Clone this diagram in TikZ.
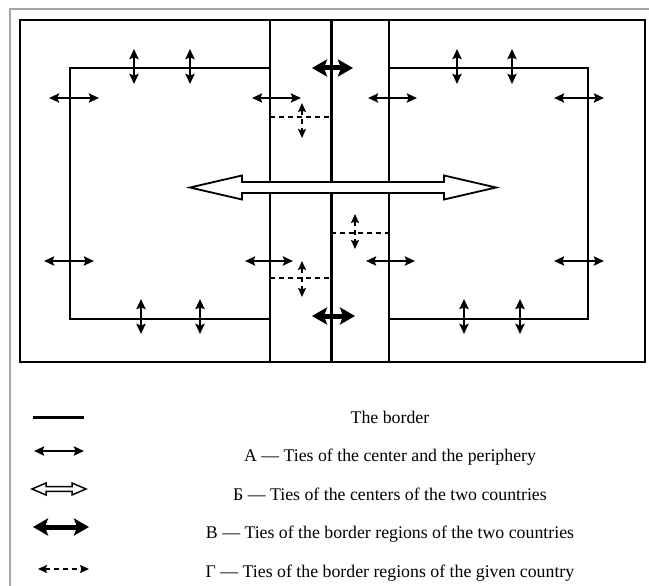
\documentclass[tikz,border=0pt]{standalone}
\usepackage{fontspec}
\setmainfont{Liberation Serif}
\usetikzlibrary{positioning,arrows.meta}
\tikzset{frame line/.style={draw,line width=1.8pt}}
\tikzset{tie arrow/.style={line width=2.2pt,>={Stealth[length=10pt,width=9pt,inset=1.5pt]},<->}}
\tikzset{border tie/.style={line width=5pt,>={Stealth[length=15pt,width=17pt,inset=3pt]},<->}}
\tikzset{region tie/.style={line width=1.6pt,dash pattern=on 5pt off 4pt,>={Stealth[length=9pt,width=8pt,inset=1.5pt]},<->}}
\tikzset{region line/.style={line width=1.6pt,dash pattern=on 5pt off 4pt}}
\tikzset{legend node/.style={font=\fontsize{17.8}{21}\selectfont,inner sep=0pt}}

\begin{document}
\begin{tikzpicture}[x=1pt,y=-1pt]
    \useasboundingbox (0,0) rectangle (649,586);
    \draw[gray!70,line width=1.4pt] (10,586) -- (10,9) -- (649,9);

    % the two countries and the border strip
    \draw[frame line] (20,20) rectangle (645,362);
    \draw[frame line] (270,68) -- (70,68) -- (70,319) -- (270,319);
    \draw[frame line] (389,68) -- (588,68) -- (588,319) -- (389,319);
    \draw[frame line] (270,20) -- (270,362);
    \draw[frame line] (389,20) -- (389,362);
    \draw[line width=3pt] (331,20) -- (331,362);

    % center and periphery
    \draw[tie arrow] (134,49) -- (134,84);
    \draw[tie arrow] (190,49) -- (190,84);
    \draw[tie arrow] (457,49) -- (457,84);
    \draw[tie arrow] (512,49) -- (512,84);
    \draw[tie arrow] (141,299) -- (141,334);
    \draw[tie arrow] (200,299) -- (200,334);
    \draw[tie arrow] (464,299) -- (464,334);
    \draw[tie arrow] (520,299) -- (520,334);
    \draw[tie arrow] (49,98) -- (99,98);
    \draw[tie arrow] (252,98) -- (301,98);
    \draw[tie arrow] (368,98) -- (417,98);
    \draw[tie arrow] (554,98) -- (604,98);
    \draw[tie arrow] (44,261) -- (94,261);
    \draw[tie arrow] (245,261) -- (293,261);
    \draw[tie arrow] (366,261) -- (415,261);
    \draw[tie arrow] (554,261) -- (604,261);

    % border regions of one country
    \draw[region line] (270,117) -- (331,117);
    \draw[region tie] (302,103) -- (302,138);
    \draw[region line] (331,233) -- (392,233);
    \draw[region tie] (355,214) -- (355,249);
    \draw[region line] (270,278) -- (331,278);
    \draw[region tie] (302,261) -- (302,297);

    % border regions of the two countries
    \draw[border tie] (312,68) -- (353,68);
    \draw[border tie] (312,316) -- (355,316);

    % centers of the two countries
    \draw[fill=white,line width=1.8pt] (190,187.5) -- (242,175.5) -- (242,182) -- (444,182) -- (444,175.5) -- (496,187.5)
        -- (444,199.5) -- (444,193) -- (242,193) -- (242,199.5) -- cycle;

    % legend
    \draw[line width=3pt] (33,417) -- (84,417);
    \draw[tie arrow] (34,451) -- (84,451);
    \draw[line width=1.5pt] (32,489) -- (46,483) -- (46,486.7) -- (72,486.7) -- (72,483) -- (86,489)
        -- (72,495) -- (72,491.3) -- (46,491.3) -- (46,495) -- cycle;
    \draw[border tie] (33,527) -- (89,527);
    \draw[region tie] (38,569) -- (89,569);

    \node[legend node,anchor=base] (l1) at (390,423) {The border};
    \node[legend node] (l2) [below=38.5pt of l1.base,anchor=base] {А — Ties of the center and the periphery};
    \node[legend node] (l3) [below=38.5pt of l2.base,anchor=base] {Б — Ties of the centers of the two countries};
    \node[legend node] (l4) [below=38.5pt of l3.base,anchor=base] {В — Ties of the border regions of the two countries};
    \node[legend node] (l5) [below=38.5pt of l4.base,anchor=base] {Г — Ties of the border regions of the given country};
\end{tikzpicture}
\end{document}
